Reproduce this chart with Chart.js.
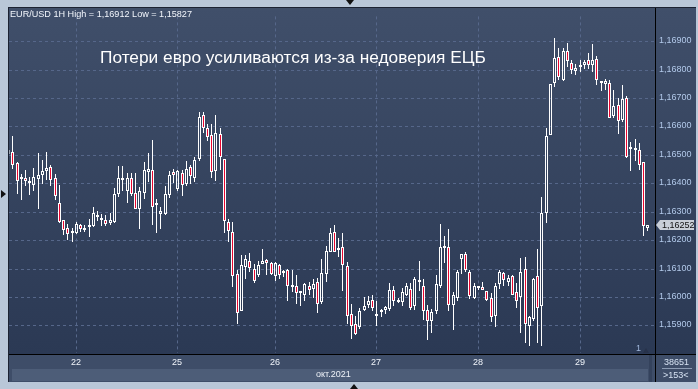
<!DOCTYPE html>
<html><head><meta charset="utf-8">
<script src="https://cdn.jsdelivr.net/npm/chart.js@4.4.1/dist/chart.umd.min.js"></script>
<style>
html,body{margin:0;padding:0;width:698px;height:389px;overflow:hidden;background:#b9c7d8;font-family:"Liberation Sans",Arial,sans-serif;}
#wrap{position:absolute;left:8px;top:7px;width:688px;height:375px;}
canvas{display:block;}
.t{position:absolute;white-space:nowrap;line-height:1;}
.tri{position:absolute;width:0;height:0;}
</style></head><body>
<div id="wrap"><canvas id="c" width="688" height="375"></canvas></div>
<div class="t" id="hdr" style="left:10px;top:10px;font-size:9.1px;color:#f2f6fc;"></div>
<div class="t" id="ttl" style="left:100px;top:49px;font-size:17.3px;color:#ffffff;"></div>
<div class="t" id="mon" style="left:316px;top:370px;font-size:9px;color:#eef2f8;"></div>
<div class="t" style="left:664px;top:358px;font-size:9px;color:#d6e2f2;">38651</div>
<div style="position:absolute;left:662px;top:368px;width:30px;height:1px;background:#8c9bb3;"></div>
<div class="t" style="left:663px;top:371px;font-size:9px;color:#d6e2f2;">&gt;153&lt;</div>
<div class="t" style="left:636px;top:344px;font-size:9px;color:#9fb6da;">1</div>
<div class="tri" style="left:643px;top:348px;border-left:3.5px solid transparent;border-right:3.5px solid transparent;border-bottom:5px solid #27324a;"></div>
<div class="tri" style="left:346px;top:0px;border-left:4px solid transparent;border-right:4px solid transparent;border-top:5px solid #111;"></div>
<div class="tri" style="left:350px;top:384px;border-left:4px solid transparent;border-right:4px solid transparent;border-bottom:5px solid #111;"></div>
<div class="tri" style="left:1px;top:190px;border-top:4.5px solid transparent;border-bottom:4.5px solid transparent;border-left:5px solid #111;"></div>
<div id="tag" style="position:absolute;left:656px;width:38px;height:10px;background:#c9cfd8;clip-path:polygon(0 50%,4px 0,100% 0,100% 100%,4px 100%);"></div>
<div class="t" id="tagt" style="left:662px;font-size:9px;color:#111;"></div>
<script>
// ---- data (EUR/USD, 1H bars) ----
const days = ['21','22','25','26','27','28','29'];
const barsPerDay = [16,24,23,24,24,24,17];
const monthLabel = 'окт.2021';
const title = 'Потери евро усиливаются из-за недоверия ЕЦБ';

const opens = [1.16503,1.16509,1.16472,1.16415,1.16418,1.16402,1.16394,1.16415,1.16430,1.16443,
1.16459,1.16418,1.16332,1.16270,1.16242,1.16226,1.16226,1.16253,1.16236,1.16247,
1.16248,1.16283,1.16271,1.16271,1.16261,1.16263,1.16364,1.16417,1.16372,1.16417,
1.16365,1.16308,1.16365,1.16441,1.16445,1.16322,1.16293,1.16293,1.16358,1.16439,
1.16381,1.16437,1.16396,1.16456,1.16420,1.16485,1.16641,1.16593,1.16571,1.16443,
1.16574,1.16485,1.16263,1.16229,1.16080,1.15949,1.16106,1.16128,1.16098,1.16078,
1.16117,1.16130,1.16118,1.16073,1.16111,1.16085,1.16094,1.16034,1.16037,1.16014,
1.16006,1.16040,1.16027,1.16051,1.15983,1.16082,1.16159,1.16228,1.16166,1.16177,
1.16109,1.15940,1.15905,1.15894,1.15953,1.15973,1.15989,1.15940,1.15946,1.15953,
1.15959,1.16025,1.15983,1.15983,1.16008,1.16029,1.15968,1.16060,1.16040,1.15953,
1.15917,1.15949,1.16037,1.16173,1.16177,1.15972,1.15997,1.16134,1.16151,1.16088,
1.15997,1.16031,1.16036,1.16020,1.15995,1.15934,1.16045,1.16084,1.16054,1.16074,
1.16017,1.15999,1.16097,1.15897,1.15922,1.16074,1.15968,1.16297,1.16571,1.16752,
1.16843,1.16763,1.16864,1.16823,1.16794,1.16808,1.16817,1.16832,1.16815,1.16837,
1.16752,1.16749,1.16752,1.16637,1.16674,1.16624,1.16700,1.16520,1.16518,1.16517,
1.16474,1.16242];
const highs = [1.16524,1.16565,1.16475,1.16431,1.16445,1.16422,1.16455,1.16507,1.16483,1.16510,
1.16463,1.16431,1.16394,1.16271,1.16256,1.16242,1.16263,1.16256,1.16254,1.16276,
1.16318,1.16303,1.16293,1.16288,1.16294,1.16383,1.16462,1.16462,1.16435,1.16437,
1.16437,1.16386,1.16474,1.16508,1.16551,1.16346,1.16316,1.16389,1.16443,1.16451,
1.16448,1.16448,1.16480,1.16466,1.16492,1.16649,1.16649,1.16609,1.16609,1.16641,
1.16595,1.16485,1.16274,1.16263,1.16094,1.16146,1.16146,1.16153,1.16117,1.16128,
1.16168,1.16134,1.16123,1.16123,1.16117,1.16094,1.16100,1.16094,1.16077,1.16020,
1.16048,1.16051,1.16063,1.16068,1.16134,1.16180,1.16243,1.16254,1.16208,1.16225,
1.16123,1.15974,1.15934,1.15962,1.15999,1.16002,1.16008,1.15985,1.15957,1.15968,
1.16048,1.16037,1.15997,1.16031,1.16048,1.16048,1.16071,1.16128,1.16063,1.15972,
1.15957,1.16077,1.16256,1.16214,1.16239,1.16017,1.16094,1.16151,1.16159,1.16094,
1.16048,1.16037,1.16054,1.16022,1.16014,1.16048,1.16094,1.16088,1.16077,1.16079,
1.16048,1.16136,1.16142,1.15934,1.16068,1.16168,1.16351,1.16594,1.16749,1.16912,
1.16875,1.16877,1.16895,1.16832,1.16820,1.16832,1.16832,1.16860,1.16889,1.16849,
1.16761,1.16767,1.16763,1.16729,1.16700,1.16746,1.16706,1.16546,1.16557,1.16540,
1.16474,1.16254];
const lows = [1.16493,1.16450,1.16363,1.16340,1.16391,1.16360,1.16373,1.16308,1.16399,1.16411,
1.16391,1.16340,1.16262,1.16218,1.16202,1.16194,1.16223,1.16229,1.16230,1.16212,
1.16246,1.16266,1.16249,1.16250,1.16254,1.16260,1.16351,1.16374,1.16332,1.16357,
1.16311,1.16240,1.16346,1.16405,1.16252,1.16225,1.16240,1.16288,1.16349,1.16400,
1.16372,1.16357,1.16389,1.16397,1.16403,1.16477,1.16578,1.16548,1.16420,1.16408,
1.16448,1.16225,1.16194,1.16034,1.15905,1.15949,1.16065,1.16088,1.16048,1.16071,
1.16117,1.16079,1.16077,1.16058,1.16065,1.16071,1.15985,1.16016,1.15974,1.15968,
1.15985,1.16006,1.15995,1.15945,1.15974,1.16054,1.16157,1.16159,1.16140,1.16020,
1.15905,1.15854,1.15865,1.15888,1.15951,1.15962,1.15951,1.15899,1.15930,1.15940,
1.15951,1.15968,1.15979,1.15968,1.16002,1.15954,1.15953,1.16020,1.15919,1.15850,
1.15873,1.15940,1.16033,1.16120,1.15949,1.15885,1.15985,1.16082,1.16088,1.15993,
1.15993,1.16025,1.16025,1.15985,1.15911,1.15896,1.16029,1.16037,1.16037,1.16006,
1.15962,1.15873,1.15839,1.15827,1.15917,1.15839,1.15827,1.16260,1.16569,1.16737,
1.16763,1.16761,1.16809,1.16786,1.16780,1.16792,1.16803,1.16803,1.16792,1.16746,
1.16725,1.16729,1.16631,1.16631,1.16574,1.16614,1.16489,1.16443,1.16479,1.16448,
1.16214,1.16231];
const closes = [1.16517,1.16463,1.16408,1.16422,1.16408,1.16407,1.16422,1.16428,1.16442,1.16452,
1.16410,1.16357,1.16263,1.16237,1.16223,1.16232,1.16256,1.16240,1.16242,1.16253,
1.16294,1.16287,1.16277,1.16256,1.16270,1.16363,1.16419,1.16410,1.16419,1.16362,
1.16311,1.16372,1.16445,1.16451,1.16317,1.16322,1.16301,1.16362,1.16430,1.16430,
1.16443,1.16394,1.16451,1.16426,1.16483,1.16634,1.16595,1.16563,1.16441,1.16578,
1.16494,1.16268,1.16231,1.16073,1.15945,1.16112,1.16133,1.16103,1.16058,1.16113,
1.16128,1.16120,1.16080,1.16118,1.16079,1.16085,1.16039,1.16040,1.16015,1.16014,
1.16045,1.16025,1.16047,1.15977,1.16085,1.16163,1.16225,1.16159,1.16174,1.16111,
1.15934,1.15899,1.15871,1.15951,1.15970,1.15985,1.15960,1.15933,1.15953,1.15964,
1.16025,1.15985,1.15990,1.16016,1.16037,1.15962,1.16062,1.16052,1.15951,1.15917,
1.15946,1.16047,1.16177,1.16177,1.15972,1.16006,1.16088,1.16151,1.16094,1.16002,
1.16037,1.16031,1.16025,1.15988,1.15930,1.16040,1.16088,1.16060,1.16068,1.16008,
1.15985,1.16088,1.15905,1.15931,1.16063,1.15962,1.16297,1.16565,1.16749,1.16840,
1.16775,1.16867,1.16829,1.16798,1.16805,1.16815,1.16828,1.16815,1.16832,1.16763,
1.16760,1.16760,1.16631,1.16672,1.16618,1.16695,1.16494,1.16526,1.16518,1.16466,
1.16248,1.16252];

// visible window (bar-index units) and price range of the plot
const xMin = 0.22, xMax = 152.82;
const yMin = 1.15803, yMax = 1.16987;

// ---- derived ----
const fmt = v => v.toFixed(5).replace('.', ',');
const dayStarts = [];
const dayLabelAt = {};
let acc = 0;
barsPerDay.forEach((n, d) => { if (d > 0) { dayStarts.push(acc); dayLabelAt[acc] = days[d]; } acc += n; });

const N = opens.length;
const idx = opens.map((_, i) => i);
const bull = i => closes[i] >= opens[i];
const bodyData = idx.map(i => ({x: i, y: [opens[i], closes[i]]}));
const wickHi = idx.map(i => { const t = Math.max(opens[i], closes[i]); return {x: i, y: [t, Math.max(highs[i], t)]}; });
const wickLo = idx.map(i => { const b = Math.min(opens[i], closes[i]); return {x: i, y: [Math.min(lows[i], b), b]}; });

document.getElementById('hdr').textContent = 'EUR/USD 1H High = ' + fmt(Math.max(...highs)) + ' Low = ' + fmt(Math.min(...lows));
document.getElementById('ttl').textContent = title;
document.getElementById('mon').textContent = monthLabel;

Chart.defaults.font.family = '"Liberation Sans", Arial, sans-serif';
const gridColor = '#56678a';

const bgPlugin = {
  id: 'bg',
  beforeDraw(chart) {
    const {ctx, width, height, chartArea} = chart;
    ctx.save();
    const g = ctx.createLinearGradient(0, 0, 0, chartArea.bottom);
    g.addColorStop(0, '#404f6a');
    g.addColorStop(1, '#2b3954');
    ctx.fillStyle = g;
    ctx.fillRect(0, 0, width, chartArea.bottom + 1);
    ctx.fillStyle = '#3e4d68';
    ctx.fillRect(0, chartArea.bottom + 1, width, height - chartArea.bottom - 1);
    ctx.fillStyle = '#4d5d78';
    ctx.fillRect(4, 362, 636, 12);
    ctx.fillStyle = '#34425c';
    ctx.fillRect(641, 348, 3, 27);
    ctx.restore();
  },
  beforeDatasetsDraw(chart) { chart.ctx.save(); chart.ctx.translate(0.5, 0); },
  afterDatasetsDraw(chart) { chart.ctx.restore(); },
  afterDraw(chart) {
    const {ctx, width, height, chartArea} = chart;
    ctx.save();
    ctx.fillStyle = '#000000';
    ctx.fillRect(chartArea.right, 0, 1, height);
    ctx.fillRect(0, chartArea.bottom + 1, width, 1);
    ctx.fillStyle = '#1b2232';
    ctx.fillRect(0, 0, width, 1);
    ctx.fillRect(0, 0, 1, height);
    ctx.restore();
  }
};

const chart = new Chart(document.getElementById('c'), {
  type: 'bar',
  data: {
    datasets: [
      {data: wickHi, backgroundColor: '#ffffff', borderWidth: 0, barThickness: 1, maxBarThickness: 1,
       grouped: false, order: 2, clip: 0, inflateAmount: 0},
      {data: wickLo, backgroundColor: '#ffffff', borderWidth: 0, barThickness: 1, maxBarThickness: 1,
       grouped: false, order: 2, clip: 0, inflateAmount: 0},
      {data: bodyData,
       backgroundColor: c => bull(c.dataIndex) ? 'rgba(0,0,0,0)' : '#e8062f',
       borderColor: '#ffffff', borderWidth: 1, borderSkipped: false,
       barThickness: 3, maxBarThickness: 3, minBarLength: 2,
       grouped: false, order: 0, clip: 0, inflateAmount: 0}
    ]
  },
  options: {
    responsive: false, animation: false, events: [],
    layout: {padding: {left: 1, top: 1, right: 0, bottom: 0}},
    plugins: {legend: {display: false}, tooltip: {enabled: false}},
    scales: {
      x: {
        type: 'linear', min: xMin, max: xMax, offset: false, alignToPixels: true,
        grid: {color: gridColor, lineWidth: 1, drawTicks: false, offset: false},
        border: {display: false, dash: [3, 3]},
        ticks: {color: '#f0f4fa', font: {size: 9}, padding: 4, autoSkip: false, maxRotation: 0,
                callback: v => dayLabelAt[v] || ''},
        afterBuildTicks: s => { s.ticks = dayStarts.map(v => ({value: v})); },
        afterFit: s => { s.height = 29; }
      },
      y: {
        type: 'linear', position: 'right', min: yMin, max: yMax, beginAtZero: false, alignToPixels: true,
        grid: {color: gridColor, lineWidth: 1, drawTicks: false},
        border: {display: false, dash: [3, 3]},
        ticks: {stepSize: 0.001, includeBounds: false, maxTicksLimit: 30, color: '#b2c9ea',
                font: {size: 9}, padding: 4, callback: v => fmt(v)},
        afterFit: s => { s.width = 41; }
      }
    }
  },
  plugins: [bgPlugin]
});

// current price tag, positioned with the y scale
const last = closes[N - 1];
const py = 7 + chart.scales.y.getPixelForValue(last);
const tag = document.getElementById('tag');
tag.style.top = (py - 5) + 'px';
const tt = document.getElementById('tagt');
tt.textContent = fmt(last);
tt.style.top = (py - 4.5) + 'px';
</script>
</body></html>
